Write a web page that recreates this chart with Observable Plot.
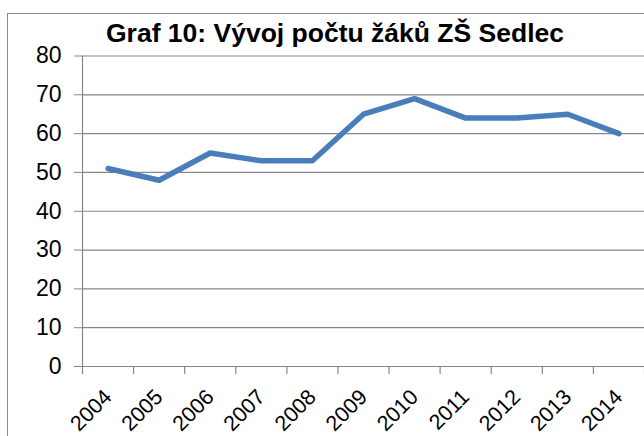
<!DOCTYPE html>
<html>
<head>
<meta charset="utf-8">
<script src="https://cdn.jsdelivr.net/npm/d3@7"></script>
<script src="https://cdn.jsdelivr.net/npm/@observablehq/plot@0.6"></script>
<style>
  html, body { margin: 0; padding: 0; background: #fff; overflow: hidden; }
  body { width: 644px; height: 436px; position: relative; font-family: "Liberation Sans", Arial, sans-serif; }
  #frame { position: absolute; left: 7px; top: 13px; width: 700px; height: 500px; border: 1px solid #8a8a8a; box-sizing: border-box; }
  #title { position: relative; height: 50px; box-sizing: border-box; padding-top: 18px; width: 670px; text-align: center; font-weight: bold; font-size: 26.5px; line-height: 30px; color: #000; white-space: nowrap; }
  #chart { position: relative; }
  #chart svg { overflow: visible; }
</style>
</head>
<body>
<div id="frame"></div>
<div id="title">Graf 10: Vývoj počtu žáků ZŠ Sedlec</div>
<div id="chart"></div>
<script>
const years = [2004, 2005, 2006, 2007, 2008, 2009, 2010, 2011, 2012, 2013, 2014];
const pupils = [51, 48, 55, 53, 53, 65, 69, 64, 64, 65, 60];
const yTicks = [0, 10, 20, 30, 40, 50, 60, 70, 80];

const data = years.map((year, i) => ({year, value: pupils[i]}));
const bounds = [...years.map(y => y - 0.5), years[years.length - 1] + 0.5];

const chart = Plot.plot({
  width: 644,
  height: 386,
  marginTop: 5.5,
  marginBottom: 70,
  marginLeft: 82,
  marginRight: 0,
  style: {fontFamily: "Liberation Sans, Arial, sans-serif", fontSize: "23px", color: "#000", background: "transparent", overflow: "visible"},
  x: {domain: [years[0] - 0.5, years[years.length - 1] + 0.5], label: null},
  y: {domain: [0, 80], label: null},
  marks: [
    Plot.gridY(yTicks, {stroke: "#868686", strokeOpacity: 1, strokeWidth: 1.2}),
    Plot.ruleX([bounds[0]], {stroke: "#868686", strokeWidth: 1.2}),
    Plot.axisY(yTicks, {tickSize: 8, tickPadding: 13, stroke: "#868686", fill: "#000", fontSize: 23}),
    Plot.axisX(bounds, {tickSize: 8, text: null, stroke: "#868686", strokeWidth: 1.2}),
    Plot.axisX(years, {tickSize: 0, tickRotate: -45, tickFormat: d => String(d), fill: "#000", fontSize: 21.5, tickPadding: 27}),
    Plot.line(data, {x: "year", y: "value", stroke: "#4a7ebb", strokeWidth: 5.5, strokeLinejoin: "round", strokeLinecap: "round"})
  ]
});
document.getElementById("chart").appendChild(chart);
</script>
</body>
</html>
